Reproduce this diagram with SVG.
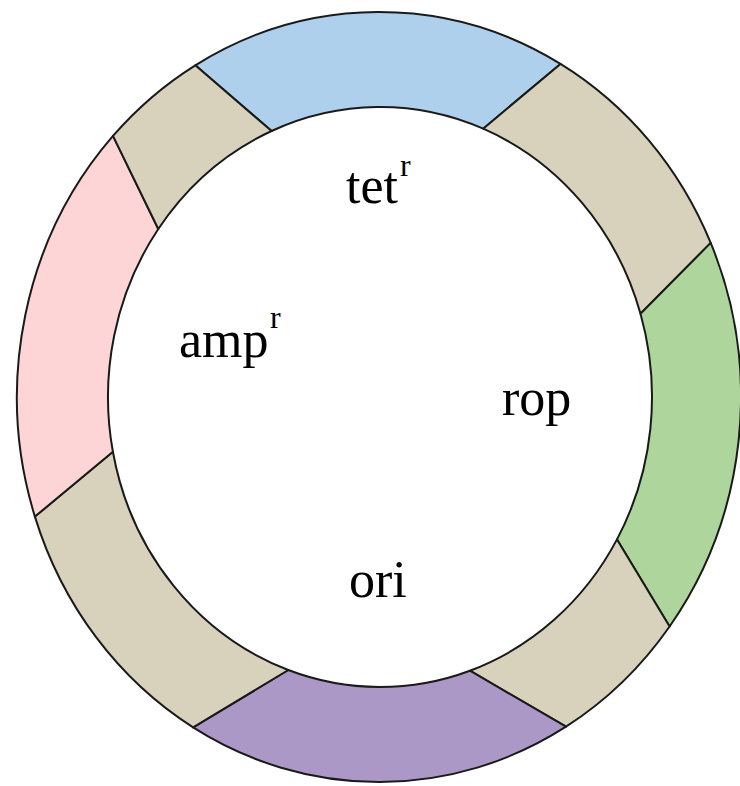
<svg xmlns="http://www.w3.org/2000/svg" width="740" height="786" viewBox="0 0 740 786">
<style>
.seg{stroke:#1a1a1a;stroke-width:2;stroke-linejoin:round}
.blue{fill:#AED0EC}.tan{fill:#D8D2BC}.green{fill:#AED69C}.pink{fill:#FDD5D7}.purple{fill:#AC98C6}
.lbl{font-family:"Liberation Serif","Times New Roman",serif;font-size:52px;fill:#000}
.sup{font-family:"Liberation Serif","Times New Roman",serif;font-size:32px;fill:#000}
</style>
<rect width="740" height="786" fill="#fff"/>
<g id="tet-segment">
<path class="seg blue" d="M195.3,65.3 A362,385 0 0 1 560.5,63.9 L483.2,128.7 A272,290 0 0 0 271.6,131 Z"/>
</g>
<g id="spacer-top-right">
<path class="seg tan" d="M560.5,63.9 A362,385 0 0 1 710.7,242.9 L640.5,313.7 A272,290 0 0 0 483.2,128.7 Z"/>
</g>
<g id="rop-segment">
<path class="seg green" d="M710.7,242.9 A362,385 0 0 1 669.6,626.5 L617,539.4 A272,290 0 0 0 640.5,313.7 Z"/>
</g>
<g id="spacer-bottom-right">
<path class="seg tan" d="M669.6,626.5 A362,385 0 0 1 566,726.7 L469.9,670.7 A272,290 0 0 0 617,539.4 Z"/>
</g>
<g id="ori-segment">
<path class="seg purple" d="M566,726.7 A362,385 0 0 1 193.1,727.4 L288.3,670 A272,290 0 0 0 469.9,670.7 Z"/>
</g>
<g id="spacer-bottom-left">
<path class="seg tan" d="M193.1,727.4 A362,385 0 0 1 34.9,516.6 L112.9,451.8 A272,290 0 0 0 288.3,670 Z"/>
</g>
<g id="amp-segment">
<path class="seg pink" d="M34.9,516.6 A362,385 0 0 1 113,135.9 L158.3,229 A272,290 0 0 0 112.9,451.8 Z"/>
</g>
<g id="spacer-top-left">
<path class="seg tan" d="M113,135.9 A362,385 0 0 1 195.3,65.3 L271.6,131 A272,290 0 0 0 158.3,229 Z"/>
</g>
<g id="labels">
<text class="lbl" x="346" y="203">tet</text><text class="sup" x="400" y="176">r</text>
<text class="lbl" x="179" y="357">amp</text><text class="sup" x="270" y="328">r</text>
<text class="lbl" x="502" y="415">rop</text>
<text class="lbl" x="349" y="597">ori</text>
</g>
</svg>
